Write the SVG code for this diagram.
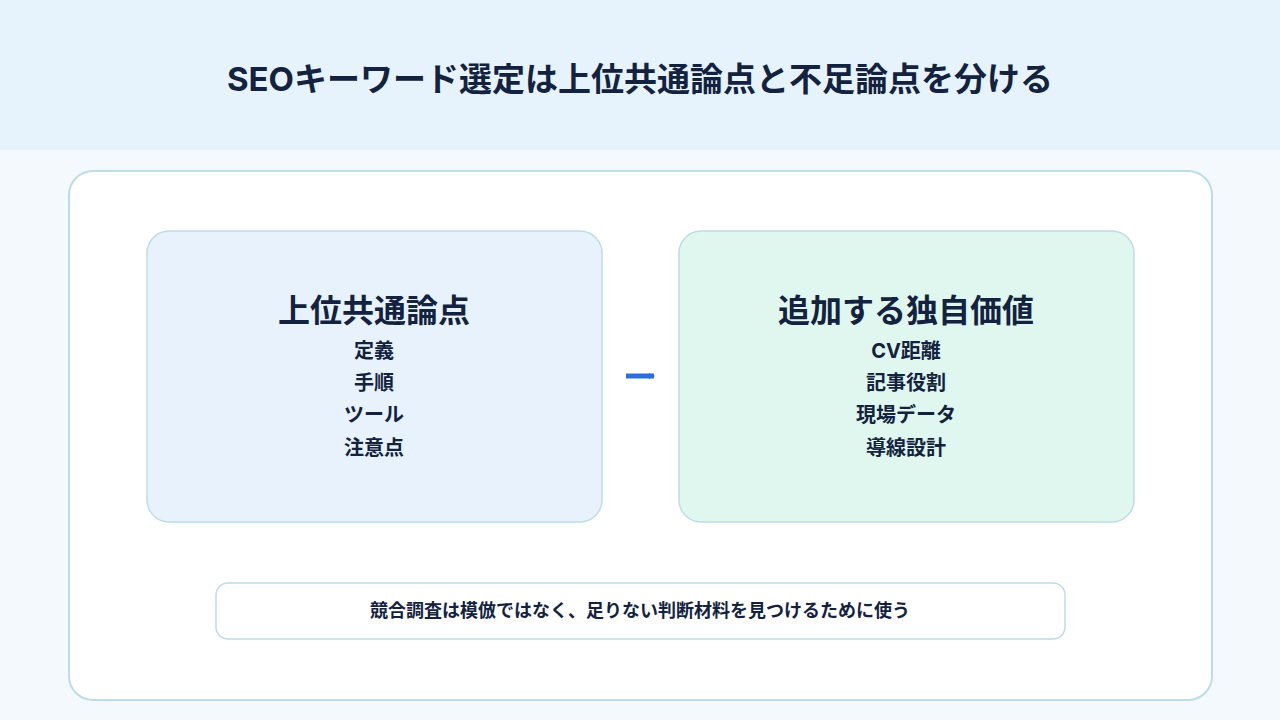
<svg xmlns="http://www.w3.org/2000/svg" width="1280" height="720" viewBox="0 0 1280 720">
<style>
text{font-family:"Inter","Noto Sans CJK JP",sans-serif;fill:#13233f;font-weight:700;text-anchor:middle}
.t{font-size:33px}.h{font-size:32px}.i{font-size:20px}.n{font-size:18px}
</style>
<defs><marker id="a" markerWidth="6" markerHeight="6" refX="5" refY="3" orient="auto" markerUnits="userSpaceOnUse" viewBox="0 0 6 6"><path d="M0,0L6,3L0,6z" fill="#2a6fdb"/></marker></defs>
<rect width="1280" height="720" fill="#f4f9fd"/>
<rect width="1280" height="150" fill="#e6f3fd"/>
<text class="t" x="640" y="91">SEOキーワード選定は上位共通論点と不足論点を分ける</text>
<rect x="69" y="171" width="1143" height="529" rx="24" fill="#fff" stroke="#bcdcea" stroke-width="2"/>
<g id="left"><rect x="147" y="231" width="455" height="291" rx="22" fill="#e7f2fd" stroke="#bcdcea" stroke-width="1.5"/>
<text class="h" x="374" y="322">上位共通論点</text>
<text class="i" x="374" y="358">定義</text><text class="i" x="374" y="390">手順</text><text class="i" x="374" y="422">ツール</text><text class="i" x="374" y="455">注意点</text></g>
<g id="right"><rect x="679" y="231" width="455" height="291" rx="22" fill="#e0f7ef" stroke="#bcdcea" stroke-width="1.5"/>
<text class="h" x="906" y="322">追加する独自価値</text>
<text class="i" x="906" y="358">CV距離</text><text class="i" x="906" y="390">記事役割</text><text class="i" x="906" y="422">現場データ</text><text class="i" x="906" y="455">導線設計</text></g>
<g id="connectors"><path d="M626,376H654" stroke="#2a6fdb" stroke-width="5" marker-end="url(#a)"/></g>
<g id="note"><rect x="216" y="583" width="849" height="56" rx="12" fill="#fff" stroke="#bcdcea" stroke-width="1.5"/>
<text class="n" x="640" y="617">競合調査は模倣ではなく、足りない判断材料を見つけるために使う</text></g>
</svg>
